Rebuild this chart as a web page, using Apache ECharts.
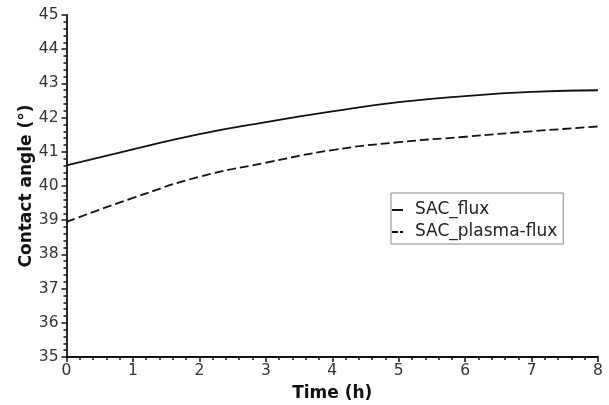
<!DOCTYPE html>
<html>
<head>
<meta charset="utf-8">
<script src="https://cdn.jsdelivr.net/npm/echarts@6/dist/echarts.min.js"></script>
<style>
  html, body { margin: 0; padding: 0; background: #fff; }
  #chart { width: 609px; height: 405px; }
</style>
</head>
<body>
<div id="chart"></div>
<script>
// time in hours
var timeH = [0, 1, 2, 3, 4, 5, 6, 7, 8];
// contact angle readings (deg)
var sacFlux = [40.6, 41.07, 41.52, 41.87, 42.18, 42.45, 42.63, 42.75, 42.8];
var sacPlasmaFlux = [38.95, 39.65, 40.27, 40.68, 41.05, 41.28, 41.44, 41.6, 41.74];

function pairs(xs, ys) {
  var out = [];
  for (var i = 0; i < xs.length; i++) {
    out.push([xs[i], ys[i]]);
  }
  return out;
}

var myChart = echarts.init(document.getElementById('chart'));
var font = 'DejaVu Sans';
var ink = '#111';

myChart.setOption({
  animation: false,
  grid: { left: 66.5, right: 11, top: 15, bottom: 48, outerBoundsMode: 'none', containLabel: false },
  legend: {
    orient: 'vertical',
    left: 391,
    top: 193,
    padding: [7, 6, 2, 1],
    itemGap: 2,
    itemWidth: 11,
    itemHeight: 2,
    borderColor: '#888',
    borderWidth: 1,
    textStyle: { fontFamily: font, fontSize: 17, lineHeight: 20, color: '#222', padding: [0, 0, 0, 7] },
    data: [
      { name: 'SAC_flux', icon: 'rect', itemStyle: { color: ink } },
      { name: 'SAC_plasma-flux', icon: 'path://M0,0h6v2h-6zM8,0h3v2h-3z', itemStyle: { color: ink } }
    ]
  },
  xAxis: {
    type: 'value',
    min: 0,
    max: 8,
    interval: 1,
    name: 'Time (h)',
    nameLocation: 'middle',
    nameGap: 28,
    nameMoveOverlap: false,
    nameTextStyle: { fontFamily: font, fontSize: 17, fontWeight: 'bold', color: ink },
    axisLine: { lineStyle: { color: ink, width: 1.8 } },
    axisTick: { length: 5, lineStyle: { color: ink, width: 1.5 } },
    minorTick: { show: true, splitNumber: 5, length: 3, lineStyle: { color: ink, width: 1.5 } },
    axisLabel: { fontFamily: font, fontSize: 15.5, color: '#333', margin: 6 },
    splitLine: { show: false }
  },
  yAxis: {
    type: 'value',
    min: 35,
    max: 45,
    interval: 1,
    name: 'Contact angle (°)',
    nameLocation: 'middle',
    nameGap: 31,
    nameMoveOverlap: false,
    nameTextStyle: { fontFamily: font, fontSize: 17, fontWeight: 'bold', color: ink },
    axisLine: { show: true, lineStyle: { color: ink, width: 1.8 } },
    axisTick: { show: true, length: 5, lineStyle: { color: ink, width: 1.5 } },
    minorTick: { show: true, splitNumber: 5, length: 3, lineStyle: { color: ink, width: 1.5 } },
    axisLabel: { fontFamily: font, fontSize: 15.5, color: '#333', margin: 8 },
    splitLine: { show: false }
  },
  series: [
    {
      name: 'SAC_flux',
      type: 'line',
      smooth: true,
      symbol: 'none',
      data: pairs(timeH, sacFlux),
      lineStyle: { color: ink, width: 1.8, type: 'solid' },
      itemStyle: { color: ink }
    },
    {
      name: 'SAC_plasma-flux',
      type: 'line',
      smooth: true,
      symbol: 'none',
      data: pairs(timeH, sacPlasmaFlux),
      lineStyle: { color: ink, width: 1.8, type: [9, 4] },
      itemStyle: { color: ink }
    }
  ]
});

window.addEventListener('resize', function () {
  myChart.resize();
});
</script>
</body>
</html>
